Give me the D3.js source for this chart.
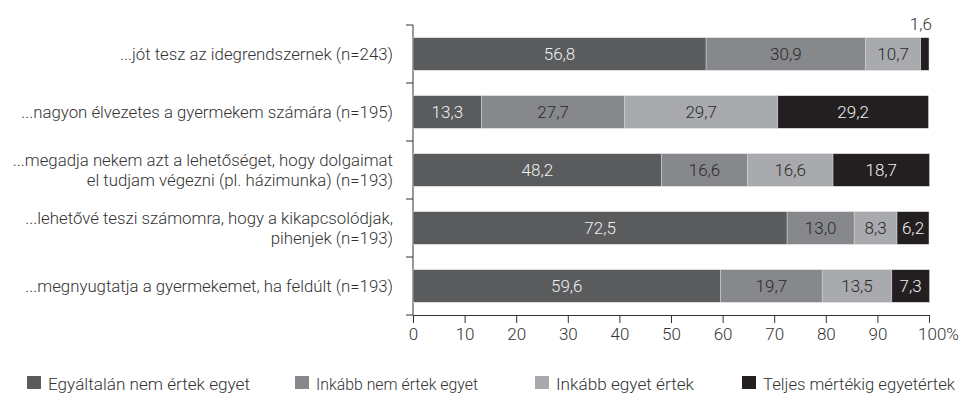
<!DOCTYPE html>
<html>
<head>
<meta charset="utf-8">
<script src="https://cdn.jsdelivr.net/npm/d3@7"></script>
<style>
body { margin:0; background:#fff; }
text { font-family: Roboto, sans-serif; font-weight:300; }
</style>
</head>
<body>
<script>
var categories = [
  ["...jót tesz az idegrendszernek (n=243)"],
  ["...nagyon élvezetes a gyermekem számára (n=195)"],
  ["...megadja nekem azt a lehetőséget, hogy dolgaimat", "el tudjam végezni (pl. házimunka) (n=193)"],
  ["...lehetővé teszi számomra, hogy a kikapcsolódjak,", "pihenjek (n=193)"],
  ["...megnyugtatja a gyermekemet, ha feldúlt (n=193)"]
];
var series = ["Egyáltalán nem értek egyet", "Inkább nem értek egyet", "Inkább egyet értek", "Teljes mértékig egyetértek"];
var values = [
  [56.8, 30.9, 10.7, 1.6],
  [13.3, 27.7, 29.7, 29.2],
  [48.2, 16.6, 16.6, 18.7],
  [72.5, 13.0, 8.3, 6.2],
  [59.6, 19.7, 13.5, 7.3]
];
var ticks = [0,10,20,30,40,50,60,70,80,90,100];
var colors = ["#5a5b5d", "#87888b", "#a9aaad", "#231f20"];
var textColors = ["#f0f0f0", "#2a2a2a", "#2a2a2a", "#f0f0f0"];

var width = 962, height = 403;
var svg = d3.select("body").append("svg").attr("width", width).attr("height", height);

var x = d3.scaleLinear().domain([0,100]).range([413,929]);
var y = d3.scaleBand().domain(d3.range(categories.length)).range([25,315]).paddingInner(0.44).paddingOuter(0.22);

// y axis line with ticks between bands
var g = svg.append("g");
g.append("line").attr("x1",413).attr("x2",413).attr("y1",25).attr("y2",315).attr("stroke","#333").attr("stroke-width",1);
d3.range(categories.length+1).forEach(function(i){
  var yy = 25 + i*(290/categories.length);
  g.append("line").attr("x1",406).attr("x2",413).attr("y1",yy).attr("y2",yy).attr("stroke","#333");
});

// bars
values.forEach(function(row, i){
  var acc = 0;
  row.forEach(function(v, j){
    svg.append("rect")
      .attr("x", x(acc))
      .attr("y", y(i))
      .attr("width", x(acc+v)-x(acc))
      .attr("height", y.bandwidth())
      .attr("fill", colors[j])
      .attr("stroke", "#d8d8d8").attr("stroke-width", 0.5);
    var lbl = v.toFixed(1).replace(".", ",");
    if (v < 3) {
      svg.append("text").attr("x", x(acc+v/2)-4).attr("y", y(i)-8)
        .attr("text-anchor","middle").attr("font-size",17).attr("fill","#333").text(lbl);
    } else {
      svg.append("text").attr("x", x(acc+v/2)).attr("y", y(i)+y.bandwidth()/2+6)
        .attr("text-anchor","middle").attr("font-size",17).attr("fill",textColors[j]).text(lbl);
    }
    acc += v;
  });
});

// category labels
categories.forEach(function(lines, i){
  var cy = y(i)+y.bandwidth()/2;
  var t = svg.append("text").attr("text-anchor","end").attr("font-size",16.8).attr("fill","#333");
  lines.forEach(function(l, k){
    t.append("tspan").attr("x",393).attr("y", cy + 5.5 + (k - (lines.length-1)/2)*20).text(l);
  });
});

// x axis
var xAxis = d3.axisBottom(x).tickValues(ticks).tickSize(8).tickFormat(function(d){ return d===100 ? "100%" : d; });
var ax = svg.append("g").attr("transform","translate(0,315)").call(xAxis);
ax.select(".domain").attr("stroke","#333");
ax.selectAll(".tick line").attr("stroke","#333");
ax.selectAll(".tick text").attr("font-size",17).attr("fill","#333").attr("font-family","Roboto").attr("font-weight",300).attr("dy","0.85em");
ax.selectAll(".tick text").filter(function(d){ return d===100; }).attr("dx", 9);

// legend
var legX = [48, 316, 556, 763];
var legW = [202, 162, 138, 192];
series.forEach(function(s, j){
  svg.append("rect").attr("x",legX[j]-21).attr("y",376).attr("width",14).attr("height",13).attr("fill",colors[j]);
  svg.append("text").attr("x",legX[j]).attr("y",390).attr("font-size",16.5).attr("fill","#333")
    .attr("textLength", legW[j]).attr("lengthAdjust","spacingAndGlyphs").text(s);
});
</script>
</body>
</html>
